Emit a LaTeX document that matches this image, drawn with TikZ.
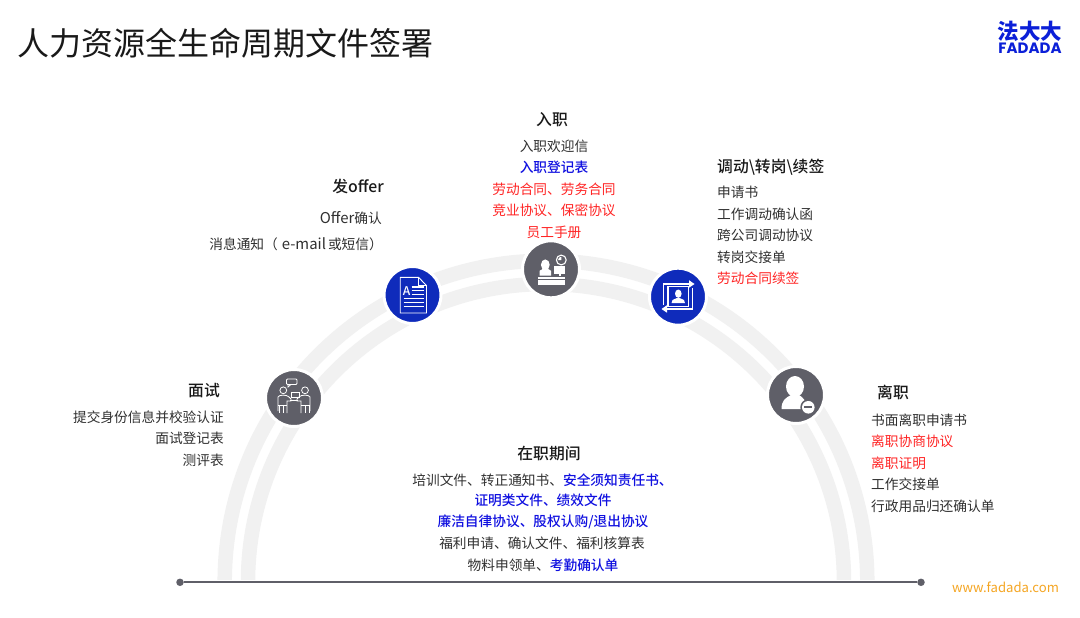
\documentclass[tikz,border=0pt]{standalone}
\usepackage{fontspec}
\setmainfont{Noto Sans CJK SC}
\newfontfamily\medf{Noto Sans CJK SC Medium}
\newfontfamily\logofont{Poppins}
\definecolor{inkc}{HTML}{303030}
\definecolor{bandc}{HTML}{F1F1F1}
\definecolor{slatec}{HTML}{5F5F68}
\definecolor{royalc}{HTML}{0F2BBB}
\definecolor{bluet}{HTML}{1010E0}
\definecolor{redt}{HTML}{FF2424}
\definecolor{orangec}{HTML}{F5A623}
\definecolor{logoc}{HTML}{0B1FD8}
\tikzset{
 lbl/.style={inner sep=0pt,text=inkc,font=\fontsize{13.7}{16}\selectfont},
 head/.style={lbl,text=black!90,font=\fontsize{15.8}{18}\selectfont\medf},
 rt/.style={anchor=east},
 lt/.style={anchor=west},
 bandline/.style={bandc,line width=14.5pt},
 disc/.style={circle,draw=white,line width=3pt,minimum size=57pt,inner sep=0pt},
 graydisc/.style={disc,fill=slatec},
 bluedisc/.style={disc,fill=royalc},
 ico/.style={draw=white,line width=0.9pt,fill=none},
 icof/.style={fill=white,draw=none},
 dot/.style={circle,fill=slatec,minimum size=7.5pt,inner sep=0pt},
}
\newcommand{\blu}[1]{\textcolor{bluet}{\medf #1}}
\newcommand{\rd}[1]{\textcolor{redt}{#1}}
\newcommand{\lat}[1]{{\fontsize{14.9}{16}\selectfont #1}}
\begin{document}
\begin{tikzpicture}[x=1pt,y=-1pt]
\useasboundingbox (0,0) rectangle (1080,618);
\fill[white] (0,0) rectangle (1080,618);
% bands
\begin{scope}
\clip (0,0) rectangle (1080,579.5);
\draw[bandline] (224.7,582) arc[start angle=180,end angle=0,radius=321.3pt];
\draw[bandline] (248,582) arc[start angle=180,end angle=0,radius=298pt];
\end{scope}
% timeline
\node[dot] (tl) at (180,582.3) {};
\node[dot] (tr) at (921,582.3) {};
\draw[slatec,line width=2.2pt] (tl) -- (tr);
% discs
\node[graydisc] (c1) at (294,398) {};
\node[bluedisc] (c2) at (412.5,295) {};
\node[graydisc] (c3) at (551,269.3) {};
\node[bluedisc] (c4) at (678,296.7) {};
\node[graydisc] (c5) at (796,395) {};
% icon 1: meeting
\begin{scope}[shift={(c1.center)}]
\draw[ico,line width=0.8pt,rounded corners=1pt] (-7.5,-19) rectangle (3,-13.5);
\draw[ico,line width=0.8pt] (-6,-13.5) -- (-6,-11) -- (-3,-13.5);
\draw[ico,line width=0.8pt] (-10.7,-7.7) circle (3.4);
\draw[ico,line width=0.8pt] (11,-7.7) circle (3.4);
\draw[ico,line width=0.8pt] (-3,-6) rectangle (5,-1);
\draw[ico,line width=0.8pt] (-16,13) -- (-16,-1) .. controls (-15,-3.5) and (-7,-3.5) .. (-5,-1) -- (-3,1) -- (-3,3) -- (-7,3) -- (-7,15);
\draw[ico,line width=0.8pt] (16,13) -- (16,-1) .. controls (15,-3.5) and (7,-3.5) .. (5,-1) -- (3,1) -- (3,3) -- (7,3) -- (7,15);
\draw[ico,line width=0.8pt] (-16,7) -- (-7,7) (16,7) -- (7,7);
\draw[ico,line width=0.8pt] (-15,7) -- (-15,15) (-11,7) -- (-11,15) (15,7) -- (15,15) (11,7) -- (11,15);
\draw[ico,line width=0.8pt] (-4,2) -- (4,2);
\end{scope}
% icon 2: document
\begin{scope}[shift={(c2.center)}]
\draw[ico,line width=0.9pt] (-12.3,-17.7) -- (6,-17.7) -- (14,-9.5) -- (14,18) -- (-12.3,18) -- cycle;
\draw[ico,line width=0.9pt] (6,-17.7) -- (6,-9.5) -- (14,-9.5);
\node[inner sep=0pt,text=white,font=\fontsize{12}{12}\selectfont\medf] (ga) at (-6,-3.5) {A};
\draw[ico,line width=1.3pt] (-1,-8) -- (11,-8) (-1,-4.3) -- (11,-4.3) (-1,-0.6) -- (11,-0.6)
  (-9,3.5) -- (11,3.5) (-9,7.5) -- (11,7.5) (-9,11.5) -- (11,11.5);
\end{scope}
% icon 3: desk
\begin{scope}[shift={(c3.center)}]
\fill[icof] (-13.3,7.3) rectangle (14.3,15.7);
\draw[slatec,line width=0.8pt] (-13.3,10) -- (14.3,10);
\fill[icof] (-5.7,-4.5) ellipse (4.4 and 5.4);
\fill[icof] (-11.5,6.2) -- (-11.5,1.5) -- (-8,-0.5) -- (-3,-0.5) -- (0,1.5) -- (0,6.2) -- cycle;
\fill[icof] (3.3,-3.5) rectangle (14.3,5);
\fill[icof] (7.5,5) rectangle (10,6.8);
\draw[ico,line width=1.1pt] (10.3,-9.3) circle (4.9);
\fill[icof] (10.3,-9.3) -- (10.3,-12.5) arc[start angle=90,end angle=180,radius=3.2pt] -- cycle;
\end{scope}
% icon 4: transfer
\begin{scope}[shift={(c4.center)}]
\draw[draw=white,line width=1.3pt] (-14.7,8.3) -- (-14.7,-12.7) -- (12,-12.7);
\fill[icof] (11,-16.5) -- (16.5,-12.7) -- (11,-9) -- cycle;
\draw[draw=white,line width=1.3pt] (14.7,-8.3) -- (14.7,12.3) -- (-12,12.3);
\fill[icof] (-11,8.5) -- (-16.5,12.3) -- (-11,16) -- cycle;
\draw[draw=white,line width=1.1pt] (-10,9.5) -- (-10,-10) -- (10.5,-10) -- (10.5,9.5) -- cycle;
\fill[icof] (0.3,-3) ellipse (3.3 and 4.2);
\fill[icof] (-6.5,6.5) -- (-5.5,3.3) -- (-1.5,1.5) -- (2,1.5) -- (6,3.3) -- (7,6.5) -- cycle;
\end{scope}
% icon 5: leaver
\begin{scope}[shift={(c5.center)}]
\fill[icof] (-1,-8.5) ellipse (9 and 10.5);
\fill[icof] (-14.5,14) .. controls (-14.5,6) and (-11,3) .. (-5,0) -- (3,0) .. controls (7,2.5) and (10,5) .. (11,14) -- cycle;
\fill[slatec] (12.3,12.3) circle (8);
\fill[icof] (12.3,12.3) circle (6.3);
\fill[slatec] (8.3,11.3) rectangle (16.3,13.3);
\end{scope}
% title
\node[lbl,anchor=west,text=black!90,font=\fontsize{32}{36}\selectfont] (title) at (17,43) {人力资源全生命周期文件签署};
% logo
\node[inner sep=0pt,text=logoc,font=\fontsize{21.5}{22}\selectfont\bfseries] (logocn) at (1030,31.5) {法大大};
\node[inner sep=0pt,text=logoc,font=\logofont\fontsize{15}{15}\selectfont\bfseries] (logoen) at (1030,48.5) {FADADA};
\node[inner sep=0pt,text=orangec,font=\fontsize{13.1}{15}\selectfont] (web) at (1005.5,587) {www.fadada.com};
% interview
\node[head,rt] (a0) at (220,391) {面试};
\node[lbl,rt] (a1) at (224,417) {提交身份信息并校验认证};
\node[lbl,rt] (a2) at (224,438.5) {面试登记表};
\node[lbl,rt] (a3) at (224,460) {测评表};
% offer
\node[head,rt] (b0) at (384,186.5) {发offer};
\node[lbl,rt] (b1) at (382,218) {\lat{Offer}确认};
\node[lbl,rt] (b2) at (383,244.5) {消息通知（\hspace{4pt}\lat{e-mail}\hspace{2pt}或短信）};
% onboarding
\node[head] (d0) at (552,120) {入职};
\node[lbl] (d1) at (554,146) {入职欢迎信};
\node[lbl] (d2) at (554,167.5) {\blu{入职登记表}};
\node[lbl] (d3) at (554,189) {\rd{劳动合同、劳务合同}};
\node[lbl] (d4) at (554,210.5) {\rd{竞业协议、保密协议}};
\node[lbl] (d5) at (554,232) {\rd{员工手册}};
% transfer
\node[head,lt] (e0) at (717,167) {调动\textbackslash 转岗\textbackslash 续签};
\node[lbl,lt] (e1) at (717,192.5) {申请书};
\node[lbl,lt] (e2) at (717,214) {工作调动确认函};
\node[lbl,lt] (e3) at (717,235.5) {跨公司调动协议};
\node[lbl,lt] (e4) at (717,257) {转岗交接单};
\node[lbl,lt] (e5) at (717,278.5) {\rd{劳动合同续签}};
% leaving
\node[head,lt] (f0) at (877,392) {离职};
\node[lbl,lt] (f1) at (871,420.5) {书面离职申请书};
\node[lbl,lt] (f2) at (871,441.5) {\rd{离职协商协议}};
\node[lbl,lt] (f3) at (871,463) {\rd{离职证明}};
\node[lbl,lt] (f4) at (871,484.5) {工作交接单};
\node[lbl,lt] (f5) at (871,506) {行政用品归还确认单};
% in service
\node[head] (g0) at (549,453.5) {在职期间};
\node[lbl] (g1) at (542.5,480) {培训文件、转正通知书、\blu{安全须知责任书、}};
\node[lbl] (g2) at (543,500.5) {\blu{证明类文件、绩效文件}};
\node[lbl] (g3) at (543,522) {\blu{廉洁自律协议、股权认购/退出协议}};
\node[lbl] (g4) at (542,543) {福利申请、确认文件、福利核算表};
\node[lbl] (g5) at (543,565) {物料申领单、\blu{考勤确认单}};
\end{tikzpicture}
\end{document}
